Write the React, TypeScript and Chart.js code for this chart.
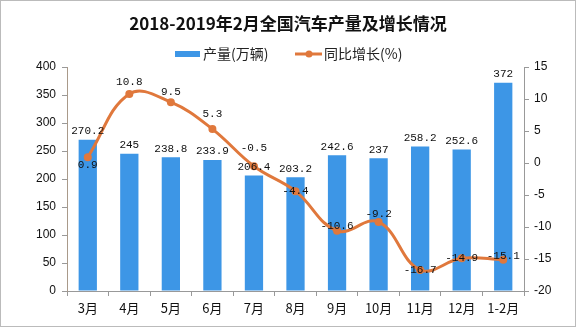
import React, { useEffect, useRef } from "react";
import { Chart, registerables } from "chart.js";

Chart.register(...registerables);

const categories = ["3月", "4月", "5月", "6月", "7月", "8月", "9月", "10月", "11月", "12月", "1-2月"];
const outputValues = [270.2, 245, 238.8, 233.9, 206.4, 203.2, 242.6, 237, 258.2, 252.6, 372];
const growthValues = [0.9, 10.8, 9.5, 5.3, -0.5, -4.4, -10.6, -9.2, -16.7, -14.9, -15.1];
const leftTicks = { min: 0, max: 400, step: 50 };
const rightTicks = { min: -20, max: 15, step: 5 };

const TITLE = "2018-2019年2月全国汽车产量及增长情况";
const BAR_LABEL = "产量(万辆)";
const LINE_LABEL = "同比增长(%)";

const BAR_COLOR = "#3d96e6";
const LINE_COLOR = "#e0783c";
const LABEL_FONT = "11px 'Liberation Mono', 'DejaVu Sans Mono', monospace";
const CJK = "'Noto Sans CJK SC', 'Noto Sans', sans-serif";

// vertical nudges of the growth labels relative to their points (style only)
const lineLabelDy = [8, -12, -10, -15, -18, 0, -5, -8, 0, 0, -4];

const decorPlugin = {
  id: "decor",
  afterDatasetsDraw(chart: any) {
    const ctx = chart.ctx;
    ctx.save();
    ctx.fillStyle = "#111";
    ctx.font = LABEL_FONT;
    ctx.textAlign = "center";
    const barMeta = chart.getDatasetMeta(1);
    barMeta.data.forEach((el: any, i: number) => {
      ctx.textBaseline = "bottom";
      ctx.fillText(String(outputValues[i]), el.x, el.y - 3);
    });
    const lineMeta = chart.getDatasetMeta(0);
    lineMeta.data.forEach((el: any, i: number) => {
      ctx.textBaseline = "middle";
      ctx.fillText(String(growthValues[i]), el.x, el.y + lineLabelDy[i]);
    });
    ctx.restore();
  },
  afterDraw(chart: any) {
    const ctx = chart.ctx;
    ctx.save();
    // title
    ctx.fillStyle = "#111";
    ctx.font = `bold 17px ${CJK}`;
    ctx.textAlign = "center";
    ctx.textBaseline = "middle";
    ctx.fillText(TITLE, 288, 24);
    // legend
    const ly = 54;
    ctx.font = `14px ${CJK}`;
    ctx.textAlign = "left";
    ctx.fillStyle = BAR_COLOR;
    ctx.fillRect(175, ly - 3, 25, 6);
    ctx.fillStyle = "#222";
    ctx.fillText(BAR_LABEL, 203, ly);
    ctx.strokeStyle = LINE_COLOR;
    ctx.lineWidth = 3;
    ctx.beginPath();
    ctx.moveTo(295, ly);
    ctx.lineTo(322, ly);
    ctx.stroke();
    ctx.fillStyle = LINE_COLOR;
    ctx.beginPath();
    ctx.arc(309, ly, 3.5, 0, Math.PI * 2);
    ctx.fill();
    ctx.fillStyle = "#222";
    ctx.fillText(LINE_LABEL, 324, ly);
    // outer border
    ctx.strokeStyle = "#bbb";
    ctx.lineWidth = 1;
    ctx.strokeRect(0.5, 0.5, chart.width - 1, chart.height - 1);
    ctx.restore();
  },
};

export default function App() {
  const ref = useRef<HTMLCanvasElement>(null);
  useEffect(() => {
    document.body.style.margin = "0";
    const canvas = ref.current!;
    const tickFont = { family: "'Liberation Sans', Arial, sans-serif", size: 12 };
    const chart = new Chart(canvas, {
      type: "bar",
      data: {
        labels: categories,
        datasets: [
          {
            type: "line",
            label: LINE_LABEL,
            data: growthValues,
            yAxisID: "y1",
            borderColor: LINE_COLOR,
            backgroundColor: LINE_COLOR,
            borderWidth: 3,
            tension: 0.4,
            pointRadius: 4,
            pointBorderWidth: 0,
            pointBackgroundColor: LINE_COLOR,
            order: 0,
          } as any,
          {
            type: "bar",
            label: BAR_LABEL,
            data: outputValues,
            yAxisID: "y",
            backgroundColor: BAR_COLOR,
            categoryPercentage: 1,
            barPercentage: 0.44,
            order: 1,
          },
        ],
      },
      options: {
        responsive: false,
        animation: false,
        layout: { padding: { top: 67, left: 0, right: 0, bottom: 0 } },
        plugins: {
          legend: { display: false },
          title: { display: false },
          tooltip: { enabled: false },
        },
        scales: {
          x: {
            offset: true,
            grid: { display: true, drawOnChartArea: false, drawTicks: true, tickLength: 5, color: "#999", offset: true },
            border: { display: true, color: "#999" },
            ticks: { color: "#111", font: { family: CJK, size: 13 }, padding: 4, maxRotation: 0, autoSkip: false },
            afterFit: (s: any) => { s.height = 36; },
          },
          y: {
            position: "left",
            min: leftTicks.min,
            max: leftTicks.max,
            ticks: { stepSize: leftTicks.step, color: "#111", font: tickFont, padding: 6 },
            grid: { display: true, drawOnChartArea: false, drawTicks: true, tickLength: 5, color: "#999" },
            border: { display: true, color: "#a99a8a" },
            afterFit: (s: any) => { s.width = 67; },
          },
          y1: {
            position: "right",
            min: rightTicks.min,
            max: rightTicks.max,
            ticks: { stepSize: rightTicks.step, color: "#111", font: tickFont, padding: 5 },
            grid: { display: true, drawOnChartArea: false, drawTicks: true, tickLength: 5, color: "#999" },
            border: { display: true, color: "#999" },
            afterFit: (s: any) => { s.width = 52; },
          },
        },
      },
      plugins: [decorPlugin],
    });
    return () => chart.destroy();
  }, []);
  return (
    <div style={{ width: 576, height: 327, background: "#fff" }}>
      <canvas ref={ref} width={576} height={327} style={{ display: "block" }} />
    </div>
  );
}
